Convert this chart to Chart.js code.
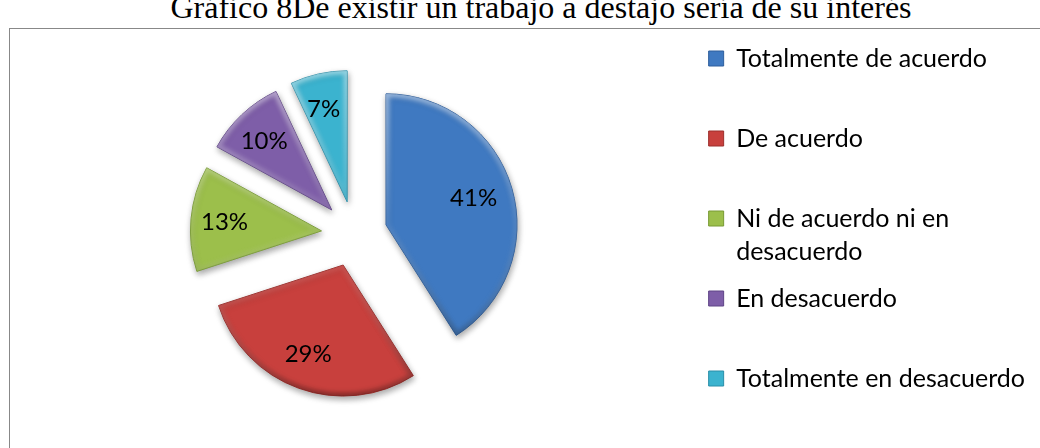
<!DOCTYPE html>
<html>
<head>
<meta charset="utf-8">
<script src="https://cdn.jsdelivr.net/npm/chart.js@4.4.1/dist/chart.umd.min.js"></script>
<style>
body { margin: 0; background: #fff; width: 1040px; height: 448px; overflow: hidden; position: relative; }
#title { position: absolute; top: -9px; left: 0; width: 1082px; text-align: center; font-family: "Liberation Serif"; font-size: 32px; line-height: 32px; white-space: nowrap; color: #000; }
#frame { position: absolute; left: 9px; top: 28px; width: 1100px; height: 500px; border: 1px solid #888; }
canvas { position: absolute; left: 0; top: 0; }
</style>
</head>
<body>
<div id="title">Gráfico  8De existir un trabajo a destajo sería de su interés</div>
<div id="frame"></div>
<canvas id="chart" width="1040" height="448"></canvas>
<script>
var labels = ["Totalmente de acuerdo", "De acuerdo", "Ni de acuerdo ni en desacuerdo", "En desacuerdo", "Totalmente en desacuerdo"];
// legend text, split the way the original wraps it
var legendLines = [["Totalmente de acuerdo", ""], ["De acuerdo", ""], ["Ni de acuerdo ni en", "desacuerdo"], ["En desacuerdo", ""], "Totalmente en desacuerdo"];
var values = [41, 29, 13, 10, 7];
var colors = ["#3f79c1", "#c8403d", "#9cbf4b", "#7e5ea8", "#3bb3cf"];
var borders = ["#2f5f9c", "#9c2f2c", "#789a34", "#5f4486", "#2a8ea8"];

var explode = 33;

// draw every slice pushed out the same distance (the built in offset also grows the radius)
var explodePie = {
    id: 'explodePie',
    beforeDatasetDraw: function(chart, args) {
        var ctx = chart.ctx;
        args.meta.data.forEach(function(arc) {
            var mid = (arc.startAngle + arc.endAngle) / 2;
            var r = arc.outerRadius;
            ctx.save();
            ctx.translate(Math.cos(mid) * explode, Math.sin(mid) * explode);
            ctx.save();
            ctx.shadowColor = 'rgba(0,0,0,0.35)';
            ctx.shadowBlur = 6;
            ctx.shadowOffsetX = 1;
            ctx.shadowOffsetY = 3;
            arc.draw(ctx);
            ctx.restore();

            // soft bevel: light along the top edges, dark along the bottom
            ctx.beginPath();
            ctx.moveTo(arc.x, arc.y);
            ctx.arc(arc.x, arc.y, r, arc.startAngle, arc.endAngle);
            ctx.closePath();
            ctx.clip();
            var g = ctx.createLinearGradient(0, arc.y - r, 0, arc.y + r);
            g.addColorStop(0, 'rgba(255,255,255,0.45)');
            g.addColorStop(0.5, 'rgba(255,255,255,0.1)');
            g.addColorStop(1, 'rgba(0,0,0,0.3)');
            ctx.filter = 'blur(2px)';
            ctx.lineWidth = 7;
            ctx.lineJoin = 'round';
            ctx.strokeStyle = g;
            ctx.stroke();
            ctx.restore();
        });
        return false;
    }
};

var pctLabels = {
    id: 'pctLabels',
    afterDatasetsDraw: function(chart) {
        var ctx = chart.ctx;
        var meta = chart.getDatasetMeta(0);
        ctx.save();
        ctx.font = '24px Lato';
        ctx.fillStyle = '#000';
        ctx.textAlign = 'center';
        ctx.textBaseline = 'middle';
        meta.data.forEach(function(arc, i) {
            var mid = (arc.startAngle + arc.endAngle) / 2;
            var r = explode + arc.outerRadius * 0.72;
            ctx.fillText(values[i] + '%', arc.x + Math.cos(mid) * r - 3, arc.y + Math.sin(mid) * r);
        });
        ctx.restore();
    }
};

new Chart(document.getElementById("chart"), {
    type: 'pie',
    data: {
        labels: labels,
        datasets: [{
            data: values,
            backgroundColor: colors,
            borderColor: borders,
            borderWidth: 1,
            radius: 131
        }]
    },
    options: {
        responsive: false,
        animation: false,
        layout: { padding: { left: 14, right: 5, top: 32, bottom: 12 } },
        plugins: {
            tooltip: { enabled: false },
            legend: {
                position: 'right',
                align: 'start',
                labels: {
                    boxWidth: 15,
                    boxHeight: 15,
                    padding: 14,
                    color: '#000',
                    font: { family: 'Lato', size: 25, lineHeight: 1.32 },
                    generateLabels: function(chart) {
                        return legendLines.map(function(t, i) {
                            return { text: t, fillStyle: colors[i], strokeStyle: borders[i], lineWidth: 1, fontColor: '#000', hidden: false, index: i };
                        });
                    }
                }
            }
        }
    },
    plugins: [explodePie, pctLabels]
});
</script>
</body>
</html>
